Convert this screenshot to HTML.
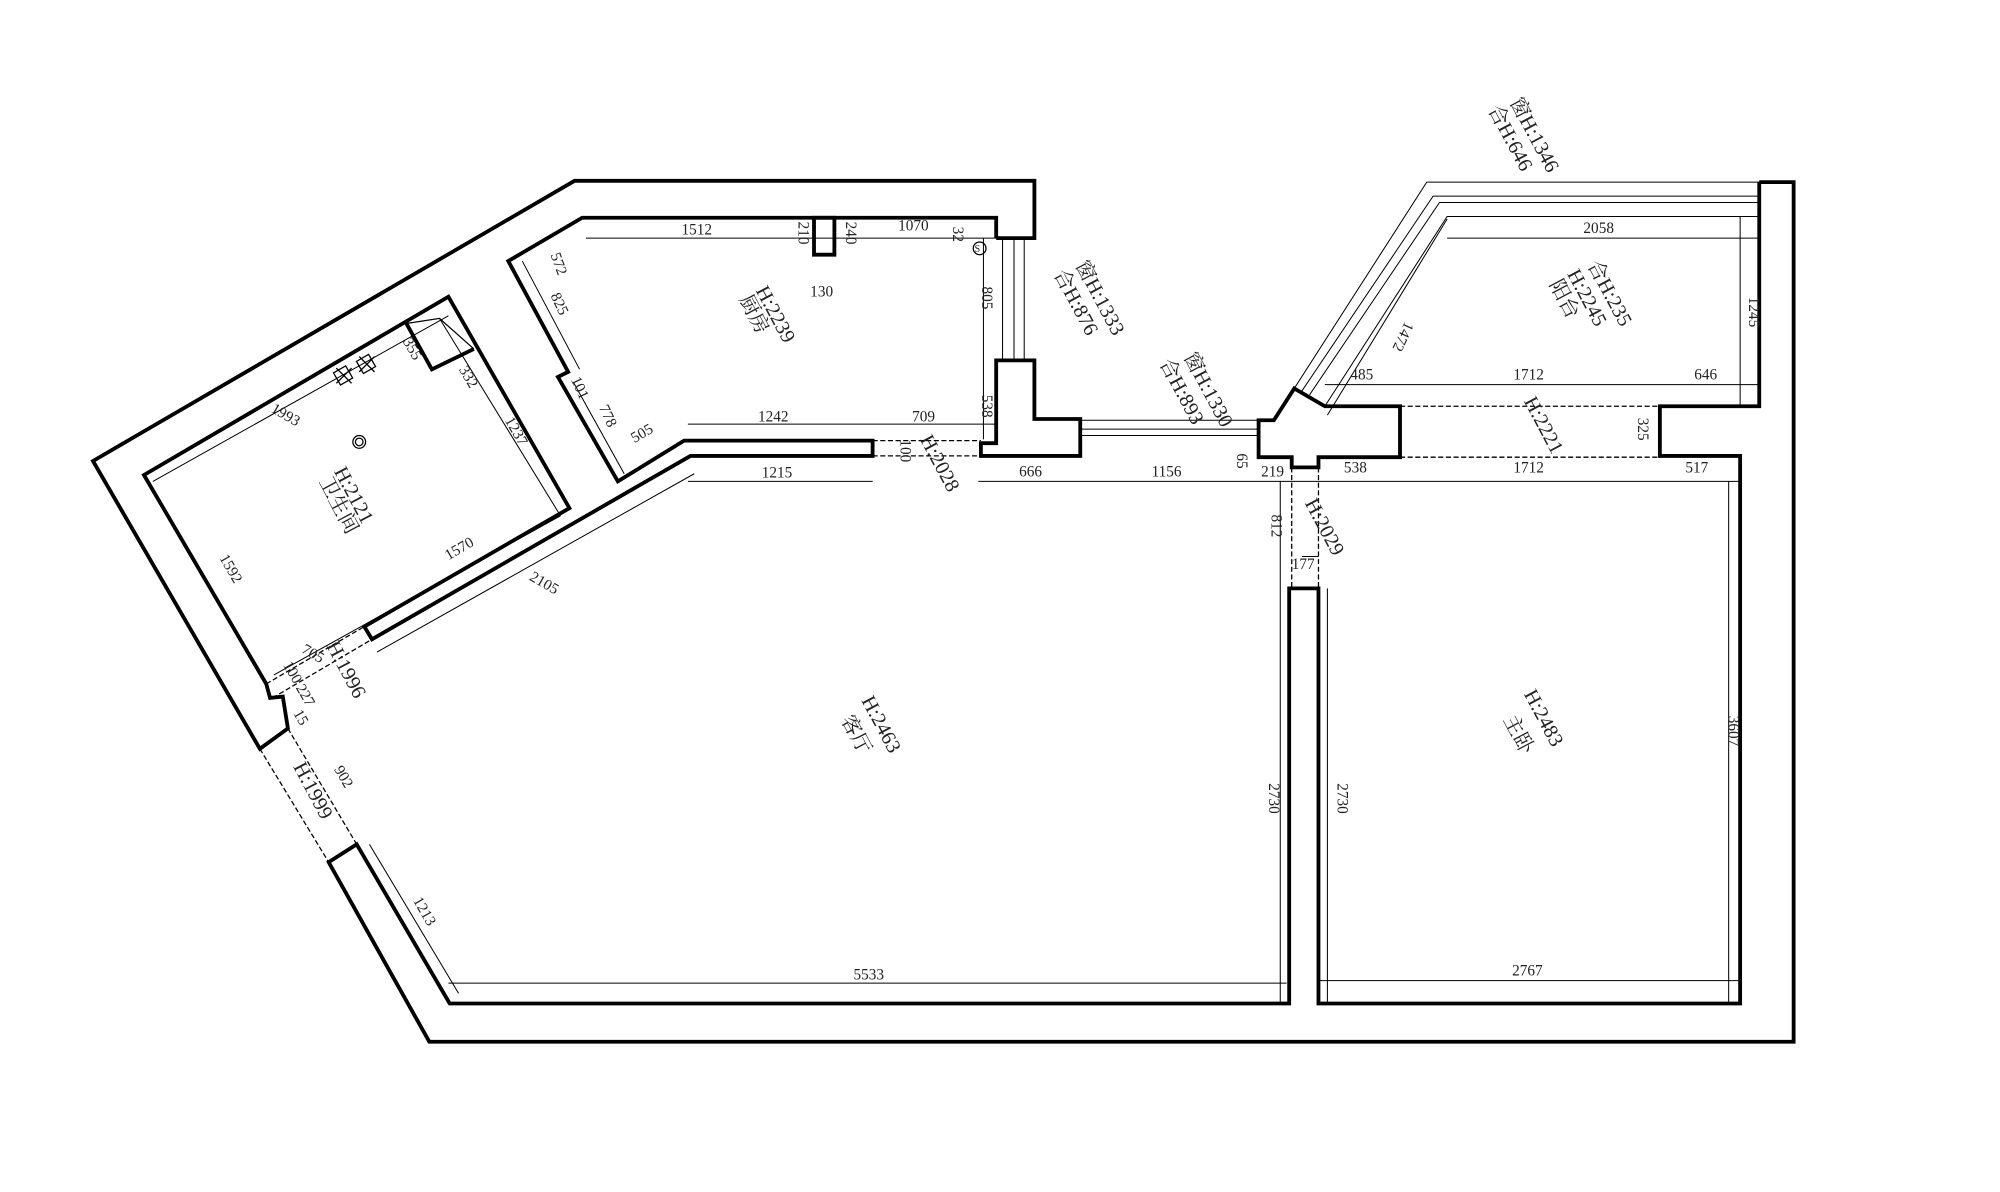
<!DOCTYPE html>
<html><head><meta charset="utf-8"><style>
html,body{margin:0;padding:0;background:#fff;}
svg{display:block}
text{font-family:"Liberation Serif","Noto Serif CJK SC",serif;fill:#222;}
</style></head><body>
<svg width="2000" height="1192" viewBox="0 0 1570 936" preserveAspectRatio="none" xmlns="http://www.w3.org/2000/svg">
<rect width="1570" height="936" fill="#fff"/>
<g fill="none" stroke="#000" stroke-width="3" stroke-linejoin="miter">
<polyline points="782,187 812,187 812,142 451,142 73,362 204,588 226,572 222,547 212,548 209,537"/>
<polyline points="782,187 782,171 457,171 399,205 446,292 438,296 485,378 537,346 685,346 685,358 542,358 292,502 286,492 447,399 352,233 113,373 209,537"/>
<polyline points="319,254 339,290 372,274"/>
<polygon points="639,171 655,171 655,200 639,200"/>
<polygon points="782,283 812,283 812,329 848,329 848,358 770,358 770,348 782,348"/>
<polygon points="988,330 1000,330 1016,305 1040,319 1099,319 1099,359 1035,359 1035,367 1014,367 1014,359 988,359"/>
<polyline points="1381,143 1408,143 1408,818 337,818 258,677 280,663 353,788 1012,788 1012,462 1035,462 1035,788 1366,788 1366,358 1303,358 1303,319 1381,319 1381,143"/>
</g>
<g fill="none" stroke="#000" stroke-width="0.8">
<line x1="787" y1="187" x2="787" y2="283"/><line x1="796" y1="187" x2="796" y2="283"/><line x1="804" y1="187" x2="804" y2="283"/>
<line x1="848" y1="337" x2="988" y2="337"/><line x1="848" y1="342" x2="988" y2="342"/><line x1="848" y1="330" x2="988" y2="330"/>
<polyline points="1016,305 1120,143 1381,143"/>
<polyline points="1022,307 1125,154 1381,154"/>
<polyline points="1028,310 1130,159 1381,159"/>
<polyline points="1040,319 1136,170 1381,170"/>
<line x1="460" y1="187" x2="782" y2="187"/>
<line x1="1136" y1="187" x2="1381" y2="187"/>
<line x1="1366" y1="170" x2="1366" y2="319"/>
<line x1="1040" y1="302" x2="1381" y2="302"/>
<line x1="768" y1="378" x2="1366" y2="378"/>
<line x1="540" y1="333" x2="782" y2="333"/>
<line x1="540" y1="378" x2="685" y2="378"/>
<line x1="352" y1="772" x2="1010" y2="772"/>
<line x1="1035" y1="770" x2="1366" y2="770"/>
<line x1="1005" y1="378" x2="1005" y2="788"/>
<line x1="1042" y1="462" x2="1042" y2="788"/>
<line x1="1357" y1="378" x2="1357" y2="788"/>
<line x1="772" y1="187" x2="772" y2="345"/>
<line x1="296" y1="512" x2="545" y2="372"/>
<line x1="120" y1="378" x2="352" y2="248"/>
<line x1="118" y1="380" x2="205" y2="530"/>
<line x1="215" y1="530" x2="440" y2="405"/>
<line x1="345" y1="250" x2="440" y2="405"/>
<line x1="410" y1="205" x2="455" y2="290"/>
<line x1="450" y1="300" x2="490" y2="372"/>
<line x1="290" y1="663" x2="360" y2="780"/>
<line x1="1136" y1="172" x2="1042" y2="326"/>
<line x1="1022" y1="437" x2="1035" y2="437"/>
</g>
<g fill="none" stroke="#000" stroke-width="1" stroke-dasharray="4,2">
<line x1="1099" y1="319" x2="1303" y2="319"/><line x1="1099" y1="359" x2="1303" y2="359"/>
<line x1="1014" y1="367" x2="1014" y2="462"/><line x1="1035" y1="367" x2="1035" y2="462"/>
<line x1="685" y1="346" x2="770" y2="346"/><line x1="685" y1="358" x2="770" y2="358"/>
<line x1="204" y1="588" x2="258" y2="677"/><line x1="226" y1="572" x2="280" y2="663"/>
<line x1="209" y1="537" x2="286" y2="492"/><line x1="214" y1="548" x2="292" y2="502"/>
</g>
<g stroke="#000" stroke-width="1" fill="none">
<rect x="264" y="289" width="11" height="11" transform="rotate(-30 270 295)"/>
<line x1="264" y1="289" x2="276" y2="301"/><line x1="276" y1="289" x2="264" y2="301"/>
<rect x="282" y="280" width="11" height="11" transform="rotate(-30 288 286)"/>
<line x1="282" y1="280" x2="294" y2="292"/><line x1="294" y1="280" x2="282" y2="292"/>
<circle cx="282" cy="347" r="5"/><circle cx="282" cy="347" r="3"/>
<circle cx="769" cy="195" r="5"/>
<polyline points="319,254 345,250 372,274"/>
</g>
<text x="765" y="198" font-size="8">S</text>
<g font-size="12">
<text x="535" y="184">1512</text><text x="705" y="181">1070</text><text x="636" y="233">130</text>
<text x="595" y="331">1242</text><text x="716" y="331">709</text><text x="598" y="375">1215</text>
<text x="800" y="374">666</text><text x="904" y="374">1156</text><text x="990" y="374">219</text>
<text x="1055" y="371">538</text><text x="1188" y="371">1712</text><text x="1323" y="371">517</text>
<text x="1014" y="447">177</text><text x="670" y="769">5533</text><text x="1187" y="766">2767</text>
<text x="1243" y="183">2058</text><text x="1060" y="298">485</text><text x="1188" y="298">1712</text><text x="1330" y="298">646</text>
<text transform="translate(748,178) rotate(90)">32</text>
<text transform="translate(771,225) rotate(90)">805</text>
<text transform="translate(771,310) rotate(90)">538</text>
<text transform="translate(627,174) rotate(90)">210</text>
<text transform="translate(664,174) rotate(90)">240</text>
<text transform="translate(998,404) rotate(90)">812</text>
<text transform="translate(996,615) rotate(90)">2730</text>
<text transform="translate(1050,615) rotate(90)">2730</text>
<text transform="translate(1357,562) rotate(90)">3607</text>
<text transform="translate(1373,233) rotate(90)">1245</text>
<text transform="translate(1286,328) rotate(90)">325</text>
<text transform="translate(971,356) rotate(90)">65</text>
<text transform="translate(707,345) rotate(90)">100</text>
<text transform="translate(432,200) rotate(70)">572</text>
<text transform="translate(432,232) rotate(65)">825</text>
<text transform="translate(448,298) rotate(65)">101</text>
<text transform="translate(470,320) rotate(65)">778</text>
<text transform="translate(498,348) rotate(-30)">505</text>
<text transform="translate(212,323) rotate(30)">1993</text>
<text transform="translate(316,268) rotate(60)">355</text>
<text transform="translate(360,290) rotate(60)">332</text>
<text transform="translate(396,330) rotate(60)">1237</text>
<text transform="translate(172,438) rotate(60)">1592</text>
<text transform="translate(352,440) rotate(-30)">1570</text>
<text transform="translate(415,455) rotate(30)">2105</text>
<text transform="translate(236,512) rotate(30)">705</text>
<text transform="translate(222,522) rotate(60)">100</text>
<text transform="translate(232,540) rotate(60)">227</text>
<text transform="translate(230,560) rotate(60)">15</text>
<text transform="translate(262,604) rotate(60)">902</text>
<text transform="translate(324,707) rotate(60)">1213</text>
<text transform="translate(1103,252) rotate(115)">1472</text>
</g>
<g font-size="16">
<text transform="translate(262,370) rotate(62)">H:2121</text>
<text transform="translate(250,378) rotate(62)">卫生间</text>
<text transform="translate(593,228) rotate(62)">H:2239</text>
<text transform="translate(580,235) rotate(62)">厨房</text>
<text transform="translate(722,345) rotate(62)">H:2028</text>
<text transform="translate(844,208) rotate(62)">窗H:1333</text>
<text transform="translate(827,215) rotate(62)">合H:876</text>
<text transform="translate(929,280) rotate(62)">窗H:1330</text>
<text transform="translate(910,285) rotate(62)">合H:893</text>
<text transform="translate(1185,80) rotate(62)">窗H:1346</text>
<text transform="translate(1168,86) rotate(62)">合H:646</text>
<text transform="translate(1246,208) rotate(62)">合H:235</text>
<text transform="translate(1230,215) rotate(62)">H:2245</text>
<text transform="translate(1216,223) rotate(62)">阳台</text>
<text transform="translate(1196,315) rotate(62)">H:2221</text>
<text transform="translate(1024,395) rotate(62)">H:2029</text>
<text transform="translate(256,507) rotate(62)">H:1996</text>
<text transform="translate(230,602) rotate(62)">H:1999</text>
<text transform="translate(676,550) rotate(62)">H:2463</text>
<text transform="translate(660,565) rotate(62)">客厅</text>
<text transform="translate(1196,545) rotate(62)">H:2483</text>
<text transform="translate(1180,565) rotate(62)">主卧</text>
</g>
</svg>
</body></html>
